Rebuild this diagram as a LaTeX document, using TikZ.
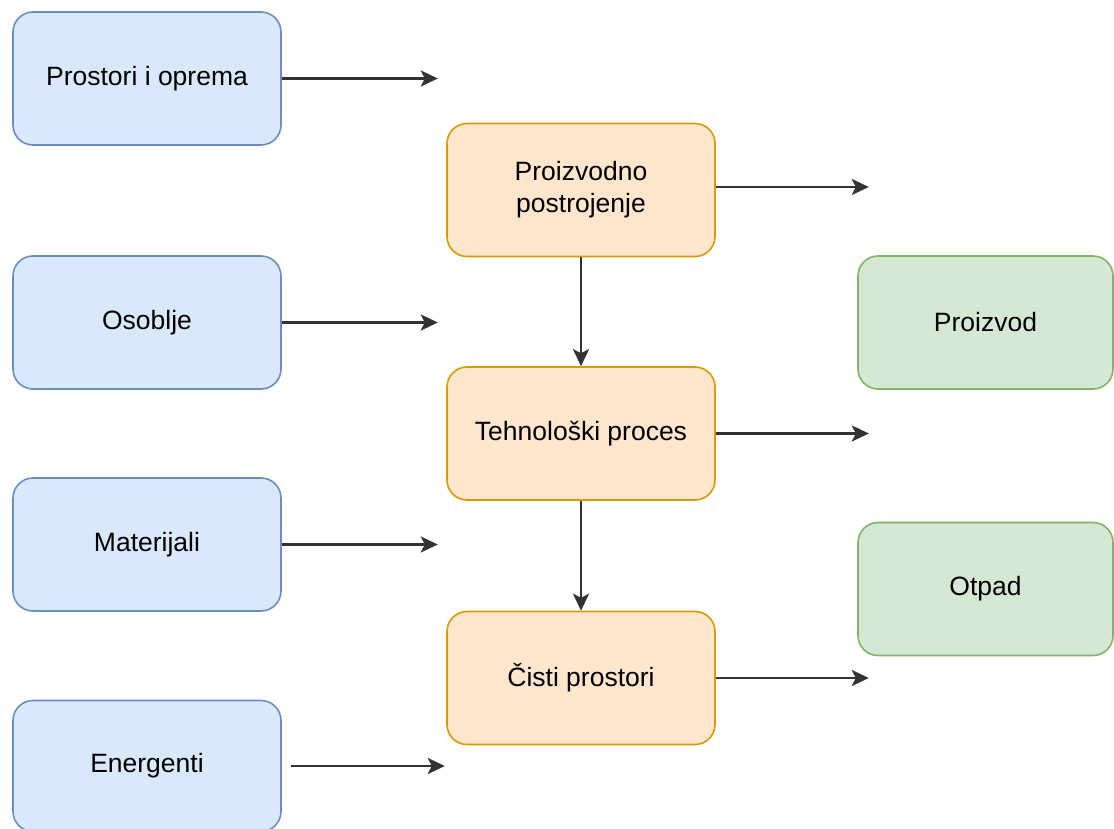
\documentclass[tikz,border=0pt]{standalone}
\usepackage{fontspec}
\setmainfont{Liberation Sans}
\usepackage{xcolor}
\usetikzlibrary{arrows.meta,positioning,calc}

\definecolor{inFill}{HTML}{DAE8FC}
\definecolor{inLine}{HTML}{6C8EBF}
\definecolor{procFill}{HTML}{FFE6CC}
\definecolor{procLine}{HTML}{D79B00}
\definecolor{outFill}{HTML}{D5E8D4}
\definecolor{outLine}{HTML}{82B366}

\tikzset{
    box/.style={rounded corners=20pt, line width=1.6pt, minimum width=268pt,
        minimum height=133pt, align=center, inner sep=0pt,
        font=\fontsize{26.5}{32}\selectfont},
    inbox/.style={box, fill=inFill, draw=inLine},
    procbox/.style={box, fill=procFill, draw=procLine},
    outbox/.style={box, fill=outFill, draw=outLine, minimum width=255pt},
    flow/.style={->, line width=2.4pt, black!80}
}

\begin{document}
\begin{tikzpicture}[x=1pt, y=-1pt, >={Stealth[length=17pt, width=16pt, inset=4pt]}]
    \useasboundingbox (0,0) rectangle (1114,829);

    % Inputs
    \node[inbox] (prostori) at (147,78.5) {Prostori i oprema};
    \node[inbox] (osoblje) at (147,322.5) {Osoblje};
    \node[inbox] (materijali) at (147,544.5) {Materijali};
    \node[inbox, minimum height=131pt] (energenti) at (147,766) {Energenti};

    % Process
    \node[procbox] (postrojenje) at (581,190) {Proizvodno\\postrojenje};
    \node[procbox] (proces) at (581,433.5) {Tehnološki proces};
    \node[procbox] (cisti) at (581,678) {Čisti prostori};

    % Outputs
    \node[outbox] (proizvod) at (985.5,322.5) {Proizvod};
    \node[outbox] (otpad) at (985.5,589) {Otpad};

    % Free ends of the arrows
    \coordinate[right=156pt of prostori.east] (in1);
    \coordinate[right=156pt of osoblje.east] (in2);
    \coordinate[right=156pt of materijali.east] (in3);
    \coordinate[right=163pt of energenti.east] (in4);
    \coordinate (postrojenje out) at ($(postrojenje.east)+(0,-3)$);
    \coordinate[right=153pt of postrojenje out] (out1);
    \coordinate[right=153pt of proces.east] (out2);
    \coordinate[right=153pt of cisti.east] (out3);

    % Arrows in
    \draw[flow] (prostori.east) -- (in1);
    \draw[flow] (osoblje.east) -- (in2);
    \draw[flow] (materijali.east) -- (in3);
    \draw[flow, shorten <=9pt] (energenti.east) -- (in4);

    % Process chain
    \draw[flow] (postrojenje) -- (proces);
    \draw[flow] (proces) -- (cisti);

    % Arrows out
    \draw[flow] (postrojenje out) -- (out1);
    \draw[flow] (proces.east) -- (out2);
    \draw[flow] (cisti.east) -- (out3);

\end{tikzpicture}
\end{document}
